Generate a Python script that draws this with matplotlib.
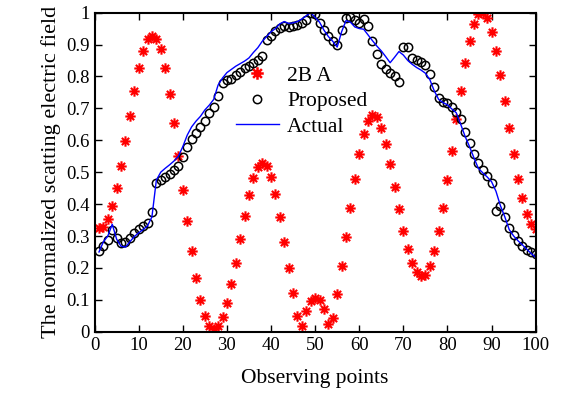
import numpy as np
import matplotlib
matplotlib.use('Agg')
import matplotlib.pyplot as plt
from matplotlib.lines import Line2D
from matplotlib.path import Path

plt.rcParams['font.family'] = ['Liberation Serif', 'DejaVu Serif']

# observing point index
points = np.arange(1, 101)

ba_2 = [0.324, 0.327, 0.352, 0.395, 0.45, 0.52, 0.597, 0.677, 0.755, 0.826,
        0.88, 0.918, 0.926, 0.918, 0.886, 0.825, 0.745, 0.653, 0.552, 0.444,
        0.347, 0.254, 0.167, 0.10, 0.05, 0.019, 0.008, 0.019, 0.045, 0.089,
        0.150, 0.216, 0.29, 0.364, 0.429, 0.483, 0.517, 0.53, 0.52, 0.486,
        0.431, 0.359, 0.282, 0.199, 0.12, 0.048, 0.019, 0.065, 0.097, 0.107,
        0.10, 0.071, 0.024, 0.042, 0.118, 0.206, 0.296, 0.389, 0.478, 0.556,
        0.619, 0.661, 0.679, 0.672, 0.639, 0.588, 0.526, 0.453, 0.384, 0.317,
        0.258, 0.214, 0.188, 0.175, 0.178, 0.206, 0.252, 0.315, 0.388, 0.475,
        0.567, 0.666, 0.755, 0.841, 0.912, 0.965, 0.995, 1.0, 0.982, 0.938,
        0.88, 0.805, 0.723, 0.639, 0.557, 0.479, 0.419, 0.37, 0.338, 0.321]

proposed = [0.254, 0.269, 0.287, 0.319, 0.293, 0.277, 0.28, 0.295, 0.308, 0.321,
            0.331, 0.342, 0.376, 0.467, 0.476, 0.486, 0.494, 0.507, 0.52, 0.549,
            0.58, 0.603, 0.622, 0.641, 0.661, 0.685, 0.703, 0.739, 0.779, 0.789,
            0.791, 0.805, 0.815, 0.826, 0.833, 0.843, 0.852, 0.865, 0.914, 0.927,
            0.943, 0.953, 0.958, 0.956, 0.958, 0.961, 0.967, 0.977, 1.0, 0.995,
            0.969, 0.944, 0.927, 0.912, 0.899, 0.944, 0.982, 0.987, 0.977, 0.969,
            0.979, 0.958, 0.912, 0.87, 0.839, 0.823, 0.812, 0.802, 0.784, 0.893,
            0.892, 0.857, 0.852, 0.846, 0.836, 0.808, 0.768, 0.732, 0.721, 0.716,
            0.705, 0.69, 0.667, 0.627, 0.59, 0.557, 0.528, 0.507, 0.488, 0.467,
            0.379, 0.394, 0.359, 0.326, 0.303, 0.285, 0.269, 0.256, 0.251, 0.244]

actual = [0.25, 0.282, 0.30, 0.337, 0.29, 0.268, 0.265, 0.282, 0.298, 0.31,
          0.32, 0.332, 0.36, 0.475, 0.50, 0.512, 0.523, 0.535, 0.55, 0.58,
          0.616, 0.642, 0.66, 0.675, 0.695, 0.71, 0.728, 0.773, 0.795, 0.812,
          0.822, 0.832, 0.84, 0.848, 0.858, 0.875, 0.89, 0.91, 0.925, 0.94,
          0.95, 0.965, 0.972, 0.966, 0.968, 0.972, 0.98, 0.99, 1.0, 0.985,
          0.97, 0.945, 0.925, 0.91, 0.892, 0.94, 0.975, 0.97, 0.955, 0.95,
          0.948, 0.93, 0.912, 0.895, 0.88, 0.862, 0.843, 0.86, 0.878, 0.867,
          0.85, 0.838, 0.828, 0.82, 0.81, 0.79, 0.755, 0.728, 0.718, 0.711,
          0.698, 0.686, 0.65, 0.612, 0.58, 0.545, 0.512, 0.498, 0.485, 0.47,
          0.44, 0.395, 0.36, 0.32, 0.30, 0.285, 0.272, 0.258, 0.245, 0.233]

xticks = list(range(0, 101, 10))
yticks = [0, 0.1, 0.2, 0.3, 0.4, 0.5, 0.6, 0.7, 0.8, 0.9, 1]
ytick_labels = ['0', '0.1', '0.2', '0.3', '0.4', '0.5', '0.6', '0.7', '0.8', '0.9', '1']

# matlab style asterisk: plus and cross on top of each other
d = 0.7
asterisk = Path([(-1, 0), (1, 0), (0, -1), (0, 1),
                 (-d, -d), (d, d), (-d, d), (d, -d)],
                [Path.MOVETO, Path.LINETO] * 4)

star = dict(linestyle='none', marker=asterisk, markersize=7.5,
            markeredgewidth=1.5, markerfacecolor='none', markeredgecolor='red')
circ = dict(linestyle='none', marker='o', markersize=6, markerfacecolor='none',
            markeredgecolor='black', markeredgewidth=1.1)

fig = plt.figure(figsize=(5.63, 3.94), dpi=100)
ax = fig.add_axes([0.168, 0.158, 0.7835, 0.81])

ax.plot(points, ba_2, **star)
ax.plot(points, proposed, **circ)
ax.plot(points, actual, color='blue', linewidth=1.0)

ax.set_xlim(0, 100)
ax.set_ylim(0, 1)
ax.set_xticks(xticks)
ax.set_yticks(yticks)
ax.set_yticklabels(ytick_labels)
ax.tick_params(direction='in', top=True, right=True, length=5, width=1,
               labelsize=13.5)
for sp in ax.spines.values():
    sp.set_linewidth(1.5)

ax.set_xlabel('Observing points', fontsize=15.5, labelpad=11)
ax.set_ylabel('The normalized scatting electric field', fontsize=16, labelpad=4)

star_handle = Line2D([0], [0], linestyle='none', marker=asterisk,
                     markersize=9, markeredgewidth=1.8, color='red',
                     markerfacecolor='none', markeredgecolor='red')
handles = [star_handle, Line2D([0], [0], **circ),
           Line2D([0], [0], color='blue', linewidth=1.0)]
leg = ax.legend(handles, ['2B A', 'Proposed', 'Actual'], loc='upper left',
                bbox_to_anchor=(0.30, 0.86), frameon=False, fontsize=15.5,
                handlelength=2.0, handletextpad=0.4, labelspacing=0.25,
                borderaxespad=0)
leg.set_zorder(10)

fig.savefig('out.png', dpi=100)
